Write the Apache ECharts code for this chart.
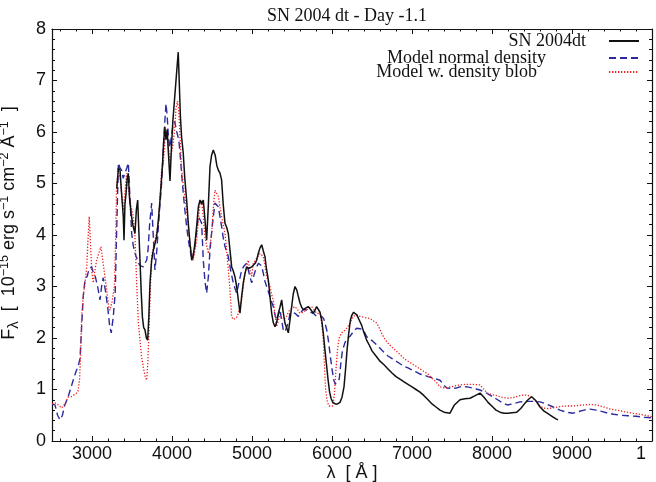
<!DOCTYPE html>
<html>
<head>
<meta charset="utf-8">
<script src="https://cdn.jsdelivr.net/npm/echarts@6/dist/echarts.min.js"></script>
<style>html,body{margin:0;padding:0;background:#fff}#c{width:656px;height:482px}</style>
</head>
<body>
<div id="c"></div>
<script>
// ---- data ----
const titleText = 'SN 2004 dt - Day -1.1';
const seriesNames = ['SN 2004dt', 'Model normal density', 'Model w. density blob'];
const xMajorTicks = [3000, 4000, 5000, 6000, 7000, 8000, 9000, 10000];
const xMinorTicks = [2600, 2800, 3200, 3400, 3600, 3800, 4200, 4400, 4600, 4800, 5200, 5400, 5600, 5800, 6200, 6400, 6600, 6800, 7200, 7400, 7600, 7800, 8200, 8400, 8600, 8800, 9200, 9400, 9600, 9800];
const yTickLabels = ['0', '1', '2', '3', '4', '5', '6', '7', '8'];

const obsWave = [3310,3330,3350,3370,3391,3400,3412,3425,3440,3454,3470,3490,3510,3537,3555,3571,3585,3600,3615,3630,3646,3662,3680,3696,3710,3725,3745,3766,3790,3808,3830,3850,3865,3880,3895,3910,3925,3940,3955,3975,3990,4010,4030,4050,4065,4078,4090,4105,4120,4140,4160,4183,4205,4225,4246,4265,4287,4310,4330,4350,4370,4391,4412,4433,4455,4475,4495,4516,4540,4560,4579,4600,4620,4640,4662,4683,4704,4725,4746,4766,4787,4808,4829,4850,4870,4891,4912,4933,4960,4996,5016,5040,5058,5080,5100,5121,5140,5162,5180,5204,5225,5246,5266,5287,5308,5329,5350,5371,5390,5412,5433,5454,5475,5496,5515,5537,5560,5580,5600,5620,5641,5670,5704,5735,5766,5790,5808,5829,5850,5871,5891,5910,5930,5950,5970,5990,6010,6040,6070,6100,6125,6150,6170,6190,6210,6230,6250,6270,6290,6310,6340,6370,6400,6433,6470,6500,6550,6600,6650,6700,6750,6800,6850,6900,6950,7000,7050,7100,7150,7200,7250,7300,7350,7400,7475,7530,7600,7660,7725,7790,7850,7900,7950,8010,8050,8100,8150,8200,8250,8310,8360,8410,8450,8496,8550,8600,8650,8690,8750,8800,8825];
const obsFlux = [4.9,5.3,5.26,4.8,4.36,3.9,4.6,4.8,5.1,5.2,4.7,4.4,4.2,4.03,4.5,4.68,4.1,3.51,2.9,2.41,2.2,2.16,2.0,1.96,2.4,3.07,3.5,3.7,3.85,3.97,4.3,4.68,5.0,5.33,5.8,6.1,5.85,6.05,5.6,5.05,5.6,6.2,6.6,7.0,7.3,7.55,7.0,6.3,5.9,5.6,5.1,4.68,4.2,3.84,3.51,3.6,3.84,4.2,4.55,4.68,4.6,4.68,4.3,3.9,4.6,5.33,5.55,5.65,5.55,5.35,5.26,5.2,5.07,4.6,4.23,4.15,4.03,3.7,3.38,3.3,3.19,3.0,2.74,2.48,2.8,3.07,3.25,3.38,3.35,3.38,3.38,3.45,3.51,3.65,3.75,3.81,3.7,3.58,3.35,3.13,2.8,2.48,2.3,2.22,2.3,2.48,2.6,2.74,2.5,2.29,2.2,2.1,2.35,2.61,2.85,3.0,2.93,2.8,2.68,2.6,2.55,2.58,2.61,2.55,2.48,2.55,2.61,2.61,2.5,2.35,2.1,1.8,1.5,1.2,0.95,0.82,0.75,0.72,0.72,0.75,0.85,1.05,1.4,1.8,2.1,2.35,2.45,2.5,2.52,2.45,2.35,2.25,2.1,1.96,1.85,1.75,1.65,1.55,1.48,1.4,1.32,1.25,1.2,1.15,1.1,1.05,1.0,0.95,0.88,0.8,0.72,0.66,0.6,0.56,0.54,0.7,0.8,0.82,0.83,0.88,0.93,0.85,0.75,0.66,0.6,0.56,0.54,0.54,0.55,0.56,0.63,0.73,0.8,0.86,0.78,0.66,0.58,0.54,0.48,0.43,0.41];

const normWave = [2500,2537,2570,2600,2630,2660,2700,2730,2765,2800,2825,2850,2870,2890,2912,2940,2965,2996,3020,3040,3070,3100,3120,3140,3170,3200,3220,3240,3265,3290,3310,3330,3350,3370,3390,3412,3435,3454,3475,3496,3515,3537,3560,3580,3610,3641,3660,3683,3700,3720,3746,3765,3787,3810,3840,3870,3891,3910,3925,3940,3955,3975,3995,4015,4035,4060,4085,4105,4125,4141,4160,4183,4205,4225,4254,4287,4310,4329,4350,4370,4380,4391,4412,4433,4455,4475,4505,4537,4560,4579,4600,4621,4640,4662,4683,4704,4735,4766,4790,4808,4840,4871,4900,4933,4965,4996,5016,5040,5058,5080,5100,5120,5141,5162,5183,5204,5225,5246,5266,5287,5308,5330,5350,5370,5391,5412,5433,5454,5475,5505,5537,5558,5579,5610,5641,5670,5704,5735,5766,5790,5808,5840,5871,5895,5912,5935,5954,5975,6000,6020,6040,6065,6090,6110,6130,6160,6190,6225,6265,6308,6350,6391,6433,6470,6500,6550,6600,6650,6700,6750,6800,6850,6900,6950,7000,7050,7100,7150,7200,7275,7350,7400,7435,7500,7560,7620,7690,7750,7800,7850,7910,7975,8050,8120,8190,8260,8350,8450,8530,8600,8680,8765,8850,8930,9015,9080,9150,9225,9300,9380,9450,9520,9600,9700,9800,9900,10000];
const normFlux = [0.72,0.7,0.5,0.41,0.5,0.7,0.85,1.0,1.18,1.35,1.44,1.6,2.2,2.8,3.12,3.2,3.35,3.38,3.25,3.2,3.0,2.74,3.0,3.17,2.9,2.54,2.25,2.1,2.4,2.87,4.2,5.4,5.3,5.26,5.1,5.07,5.3,5.4,4.7,4.03,3.8,3.65,3.55,3.45,3.4,3.38,3.45,3.51,3.7,4.2,4.62,4.0,3.32,3.7,4.4,5.0,5.65,6.2,6.55,6.3,5.9,5.7,5.95,6.15,6.2,6.0,5.85,5.5,5.1,4.81,4.5,4.16,3.9,3.71,3.51,3.78,4.1,4.36,4.3,4.23,3.9,3.51,3.1,2.87,3.2,3.71,4.2,4.62,4.6,4.55,4.35,4.16,3.95,3.78,3.68,3.58,3.3,3.07,2.95,2.87,3.1,3.32,3.4,3.45,3.25,3.07,3.1,3.3,3.38,3.45,3.48,3.4,3.26,3.1,3.0,2.9,2.8,2.7,2.61,2.45,2.35,2.45,2.55,2.35,2.16,2.12,2.1,2.3,2.48,2.5,2.48,2.45,2.42,2.5,2.55,2.55,2.52,2.5,2.48,2.45,2.42,2.42,2.42,2.38,2.29,2.15,1.96,1.7,1.4,1.2,1.1,1.08,1.2,1.5,1.75,1.9,2.0,2.03,2.12,2.19,2.18,2.16,2.03,1.98,1.95,1.88,1.8,1.72,1.65,1.6,1.55,1.5,1.45,1.42,1.38,1.34,1.3,1.28,1.25,1.22,1.18,1.08,1.03,1.02,1.03,1.06,1.05,1.03,1.01,0.99,0.95,0.89,0.82,0.75,0.7,0.72,0.76,0.77,0.77,0.76,0.72,0.66,0.6,0.56,0.54,0.57,0.6,0.62,0.6,0.57,0.54,0.52,0.5,0.49,0.48,0.46,0.45];

const blobWave = [2500,2537,2580,2620,2660,2700,2740,2765,2800,2825,2845,2860,2870,2890,2912,2935,2950,2966,2985,3000,3016,3035,3058,3085,3112,3135,3162,3190,3210,3225,3250,3280,3295,3308,3330,3350,3370,3391,3410,3433,3455,3475,3495,3516,3537,3560,3580,3600,3620,3645,3665,3683,3697,3710,3728,3746,3766,3787,3808,3830,3850,3870,3891,3905,3920,3940,3958,3975,3995,4015,4030,4050,4068,4085,4100,4121,4150,4183,4205,4225,4246,4266,4287,4308,4330,4350,4370,4391,4412,4433,4454,4475,4495,4515,4537,4558,4579,4600,4620,4640,4662,4683,4705,4725,4746,4766,4787,4808,4829,4850,4870,4891,4912,4933,4954,4975,4995,5016,5037,5058,5080,5100,5120,5141,5162,5183,5204,5225,5245,5266,5287,5308,5330,5350,5370,5391,5412,5433,5454,5475,5505,5537,5570,5600,5640,5683,5715,5745,5775,5808,5830,5850,5871,5891,5905,5920,5940,5960,5985,6010,6030,6050,6070,6090,6120,6160,6200,6225,6266,6300,6350,6400,6475,6520,6558,6590,6620,6660,6700,6750,6800,6850,6900,6950,7000,7050,7100,7150,7200,7250,7300,7350,7420,7480,7540,7600,7680,7760,7850,7900,7940,8000,8060,8120,8190,8260,8320,8380,8440,8500,8560,8600,8640,8700,8780,8860,8935,9000,9080,9150,9230,9310,9400,9480,9550,9620,9690,9760,9840,9920,10000];
const blobFlux = [0.72,0.74,0.7,0.64,0.72,0.85,0.86,0.88,0.92,0.97,1.2,1.8,2.41,2.8,3.07,3.4,3.9,4.36,3.7,3.25,3.07,3.3,3.51,3.65,3.77,3.5,3.19,2.85,2.6,2.54,2.7,3.0,3.9,5.0,5.2,5.13,4.8,4.48,4.8,5.2,4.9,4.68,4.5,4.36,3.97,3.0,2.29,1.95,1.64,1.4,1.25,1.18,1.5,2.02,2.9,3.58,3.75,3.9,4.05,4.25,4.7,5.26,5.4,5.7,6.0,5.9,5.65,5.4,5.6,5.8,6.0,6.45,6.6,6.4,5.9,5.26,4.85,4.48,4.15,3.84,3.65,3.51,3.7,3.9,4.3,4.62,4.68,4.35,3.97,3.8,3.64,3.8,4.03,4.5,4.87,4.85,4.75,4.55,4.36,4.2,4.03,3.71,3.3,2.93,2.41,2.36,2.35,2.4,2.48,2.6,2.74,3.0,3.26,3.4,3.51,3.3,3.2,3.45,3.5,3.51,3.6,3.64,3.62,3.58,3.4,3.19,3.1,3.0,2.85,2.74,2.45,2.22,2.35,2.42,2.38,2.35,2.38,2.42,2.5,2.55,2.58,2.61,2.55,2.48,2.5,2.55,2.58,2.61,2.55,2.48,2.48,2.48,2.29,1.96,1.5,1.0,0.78,0.68,0.66,0.68,0.9,1.4,1.8,2.0,2.1,2.15,2.22,2.29,2.42,2.45,2.42,2.4,2.38,2.33,2.29,2.2,2.09,1.98,1.9,1.82,1.75,1.68,1.6,1.55,1.5,1.45,1.4,1.35,1.3,1.22,1.15,1.05,1.03,1.05,1.07,1.09,1.1,1.1,1.09,1.0,0.93,0.9,0.88,0.85,0.83,0.84,0.87,0.89,0.89,0.85,0.75,0.68,0.64,0.63,0.65,0.67,0.68,0.68,0.69,0.7,0.71,0.7,0.66,0.62,0.6,0.58,0.56,0.54,0.52,0.5,0.47];

// ---- chart ----
const zip = (w, f) => w.map((x, i) => [x, f[i]]);
const SERIF = 'Liberation Serif';
const SANS = 'Liberation Sans';
const X_MIN = 2500, X_MAX = 10000, Y_MIN = 0, Y_MAX = 8;

function xAxisCfg(pos, ticks, len, showLine, labels) {
  return {
    type: 'value', position: pos, min: X_MIN, max: X_MAX, splitNumber: 8,
    axisLine: { show: showLine, onZero: false, lineStyle: { color: '#111', width: 1.2 } },
    axisTick: { show: true, inside: true, length: len, customValues: ticks, lineStyle: { color: '#111', width: 1 } },
    axisLabel: labels ? {
      show: true, customValues: xMajorTicks, margin: 4, color: '#111',
      fontFamily: SANS, fontSize: 18,
      formatter: v => v === 10000 ? '{c|1}' : String(v),
      rich: { c: { fontFamily: SANS, fontSize: 18, color: '#111', padding: [0, 22, 0, 0] } }
    } : { show: false },
    splitLine: { show: false }
  };
}
function yAxisCfg(pos, labels) {
  return {
    type: 'value', position: pos, min: Y_MIN, max: Y_MAX, interval: 1,
    axisLine: { show: true, onZero: false, lineStyle: { color: '#111', width: 1.2 } },
    axisTick: { show: true, inside: true, length: 5, lineStyle: { color: '#111', width: 1 } },
    minorTick: { show: true, splitNumber: 5, length: 3, lineStyle: { color: '#111', width: 1 } },
    axisLabel: labels ? { show: true, margin: 6, color: '#111', fontFamily: SANS, fontSize: 18,
      padding: [0, 0, 5, 0], formatter: v => yTickLabels[v] } : { show: false },
    splitLine: { show: false }, minorSplitLine: { show: false }
  };
}

const chart = echarts.init(document.getElementById('c'), null, { renderer: 'canvas' });
const yName = '{n|F}{s|λ}{n|  [  10}{p|−15}{n| erg s}{p|−1}{n| cm}{p|−2}{n| Å}{p|−1}{n|  ]}';

function legendCfg(name, top, gap) {
  return {
    data: [name], right: 16, top: top, padding: 0, align: 'right', orient: 'horizontal',
    itemWidth: 30, itemHeight: 14, selectedMode: false,
    itemStyle: { opacity: 0 },
    formatter: n => '{t|' + n + '}{g| }',
    textStyle: { fontFamily: SERIF, fontSize: 18, color: '#111',
      rich: { t: { fontFamily: SERIF, fontSize: 18, color: '#111' }, g: { width: gap, fontSize: 18 } } }
  };
}

chart.setOption({
  animation: false,
  backgroundColor: '#fff',
  title: { text: titleText, left: 262, top: 2,
    textStyle: { fontFamily: SERIF, fontSize: 18, fontWeight: 'normal', color: '#111' } },
  legend: [
    legendCfg(seriesNames[0], 32, 18),
    legendCfg(seriesNames[1], 49, 58),
    legendCfg(seriesNames[2], 63, 67)
  ],
  grid: { left: 52, right: 4, top: 29, bottom: 41, containLabel: false, outerBoundsMode: 'none' },
  xAxis: [
    Object.assign(xAxisCfg('bottom', xMajorTicks, 5, true, true), {
      name: 'λ  [ Å ]', nameLocation: 'middle', nameGap: 22, nameMoveOverlap: false,
      nameTextStyle: { fontFamily: SANS, fontSize: 18, color: '#111', verticalAlign: 'top', lineHeight: 20 }
    }),
    xAxisCfg('bottom', xMinorTicks, 2.5, false, false),
    xAxisCfg('top', xMajorTicks, 5, true, false),
    xAxisCfg('top', xMinorTicks, 2.5, false, false)
  ],
  yAxis: [
    Object.assign(yAxisCfg('left', true), {
      name: yName, nameLocation: 'middle', nameGap: 31, nameRotate: 90, nameMoveOverlap: false,
      nameTextStyle: { fontFamily: SANS, fontSize: 18, color: '#111', padding: [0, 0, 0, 24],
        rich: {
          n: { fontFamily: SANS, fontSize: 18, color: '#111' },
          s: { fontFamily: SANS, fontSize: 15, color: '#111', padding: [8, 0, 0, 0] },
          p: { fontFamily: SANS, fontSize: 12.5, color: '#111', padding: [0, 0, 9, 0] }
        } }
    }),
    yAxisCfg('right', false)
  ],
  series: [
    { name: seriesNames[1], type: 'line', xAxisIndex: 0, yAxisIndex: 0, data: zip(normWave, normFlux),
      symbol: 'none', smooth: false, lineStyle: { color: '#2a2aa0', width: 1.4, type: [7, 4] }, itemStyle: { color: '#2a2aa0' } },
    { name: seriesNames[2], type: 'line', xAxisIndex: 0, yAxisIndex: 0, data: zip(blobWave, blobFlux),
      symbol: 'none', smooth: false, lineStyle: { color: '#ee2222', width: 1.3, type: [1.3, 1.7] }, itemStyle: { color: '#ee2222' } },
    { name: seriesNames[0], type: 'line', xAxisIndex: 0, yAxisIndex: 0, data: zip(obsWave, obsFlux),
      symbol: 'none', smooth: false, lineStyle: { color: '#111', width: 1.5 }, itemStyle: { color: '#111' } }
  ]
});
</script>
</body>
</html>
